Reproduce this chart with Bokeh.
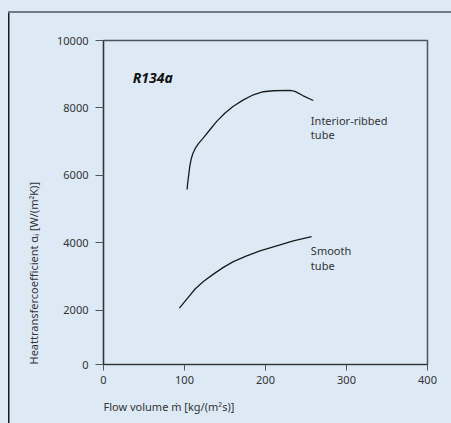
from bokeh.plotting import figure
from bokeh.models import Range1d, FixedTicker, Title
from bokeh.embed import file_html
from bokeh.resources import INLINE
from bokeh.core.properties import value

# ---- data ----
ribbed_x = [103.2, 104.0, 105.3, 106.5, 108.1, 110.2, 113.1, 117.2, 123.3, 131.6, 139.8, 150.1,
            160.3, 172.7, 185.0, 197.3, 209.7, 230.2, 236.4, 246.6, 259.0]
ribbed_y = [5580, 5780, 6030, 6270, 6470, 6640, 6790, 6940, 7110, 7360, 7600, 7850,
            8050, 8240, 8390, 8480, 8510, 8520, 8490, 8360, 8220]

smooth_x = [93.7, 102.8, 113.1, 123.3, 135.7, 148.0, 160.3, 176.8, 193.2, 213.8, 234.3, 256.9]
smooth_y = [2060, 2330, 2630, 2850, 3070, 3270, 3440, 3610, 3760, 3910, 4060, 4185]

x_ticks = [0, 100, 200, 300, 400]
y_ticks = [0, 2000, 4000, 6000, 8000, 10000]
y_floor = 390  # the reference's bottom tick "0" sits slightly above a linear zero

title_text = "R134a"
title_pos = (36, 8890)
notes = ["Interior-ribbed", "tube", "Smooth", "tube"]
notes_x = [256, 256, 256, 256]
notes_y = [7620, 7210, 3770, 3340]

x_label = "Flow volume ṁ [kg/(m²s)]"
y_label = "Heattransfercoefficient αᵢ [W/(m²K)]"

BG = "#ddeaf6"
FONT = "Noto Sans"

p = figure(width=451, height=423, output_backend="svg", toolbar_location=None,
           x_range=Range1d(0, 400), y_range=Range1d(y_floor, 10000),
           min_border_left=103, min_border_right=24, min_border_top=40, min_border_bottom=58)
p.background_fill_color = BG
p.border_fill_color = None
# panel background with the outer frame rules (top grey, left dark)
p.styles = {
    "background": ("linear-gradient(#6e7b85, #6e7b85) 8px 11px / 443px 2px no-repeat, "
                   "linear-gradient(#1a1a1a, #1a1a1a) 8px 11px / 1.5px 412px no-repeat, "
                   + BG),
}
p.grid.visible = False
p.outline_line_color = "#4a5560"
p.outline_line_width = 1.5

p.line(ribbed_x, ribbed_y, line_color="#1a1a1a", line_width=1.3)
p.line(smooth_x, smooth_y, line_color="#1a1a1a", line_width=1.3)

p.text(x=[title_pos[0]], y=[title_pos[1]], text=[title_text], text_font=value(FONT),
       text_font_style="bold italic", text_font_size="14px", text_color="#111",
       text_baseline="middle", text_align="left")
p.text(x=notes_x, y=notes_y, text=notes, text_font=value(FONT), text_font_size="11px",
       text_color="#333", text_baseline="middle", text_align="left")

# axes
p.xaxis.ticker = FixedTicker(ticks=x_ticks)
yt = [y_floor if t == 0 else t for t in y_ticks]
p.yaxis.ticker = FixedTicker(ticks=yt)
p.yaxis.major_label_overrides = {y_floor: "0"}

for ax in (p.xaxis[0], p.yaxis[0]):
    ax.axis_line_color = "#333"
    ax.axis_line_width = 1.2
    ax.major_tick_line_color = "#555"
    ax.minor_tick_line_color = None
    ax.major_tick_in = 0
    ax.major_label_text_font = FONT
    ax.major_label_text_font_size = "11px"
    ax.major_label_text_color = "#333"

p.xaxis.major_tick_out = 6
p.xaxis.major_label_standoff = 5
p.yaxis.major_tick_out = 8
p.yaxis.major_label_standoff = 7

# axis titles as side-panel titles, aligned to the start of each axis
p.add_layout(Title(text=x_label, align="left", standoff=20, text_font=FONT,
                   text_font_size="11px", text_font_style="normal", text_color="#333"), "below")
p.add_layout(Title(text=y_label, align="left", standoff=28, text_font=FONT,
                   text_font_size="11px", text_font_style="normal", text_color="#333"), "left")

open("out.html", "w").write(file_html(p, INLINE))
